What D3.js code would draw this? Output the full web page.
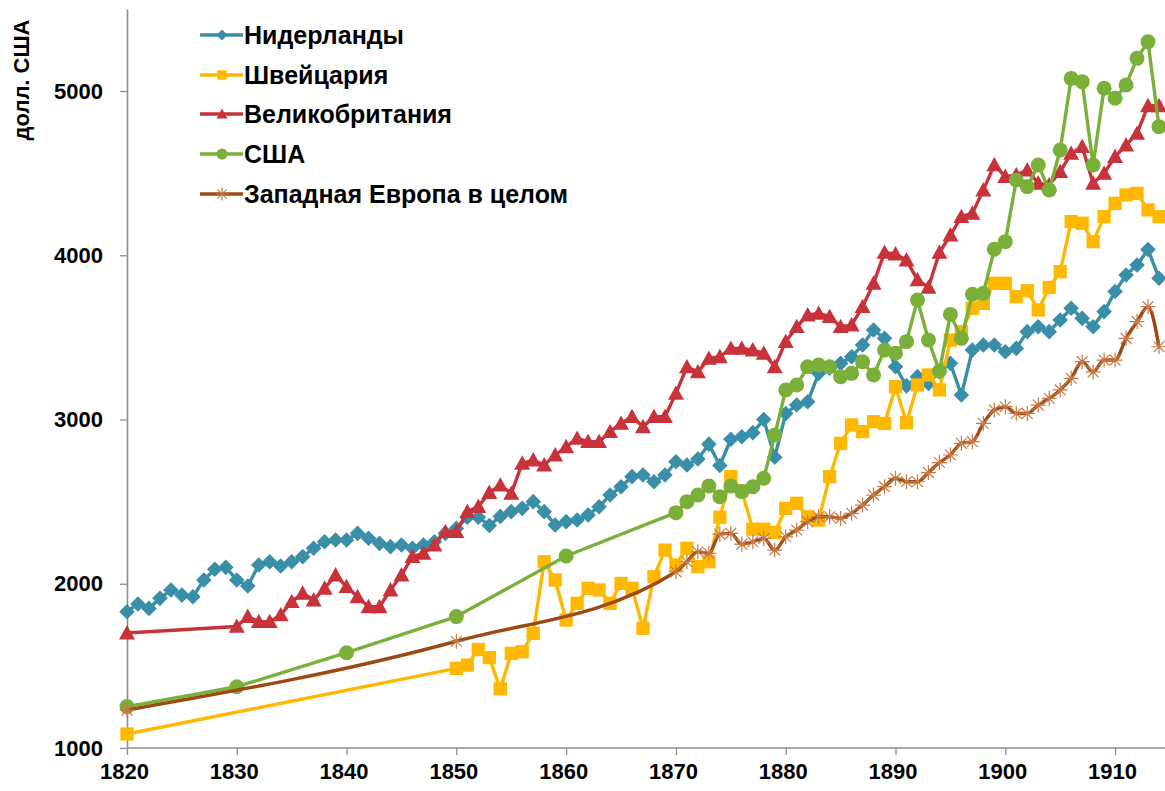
<!DOCTYPE html>
<html>
<head>
<meta charset="utf-8">
<script src="https://cdn.jsdelivr.net/npm/d3@7"></script>
<style>
  html, body { margin: 0; padding: 0; background: #fff; }
  svg { display: block; }
  text { font-family: "Liberation Sans", Arial, sans-serif; font-weight: bold; fill: #000; }
</style>
</head>
<body>
<svg id="chart" width="1165" height="791"></svg>
<script>
// ---------- DATA ----------
const seriesNames = ["Нидерланды", "Швейцария", "Великобритания", "США", "Западная Европа в целом"];
const yAxisTitle = "долл. США";
const xTickValues = [1820, 1830, 1840, 1850, 1860, 1870, 1880, 1890, 1900, 1910];
const yTickValues = [1000, 2000, 3000, 4000, 5000];

const nlYears = d3.range(1820, 1915);
const nlValues = [1830,1877,1850,1911,1962,1931,1921,2023,2088,2100,
  2023,1986,2114,2134,2108,2134,2165,2216,2256,2266,
  2266,2307,2277,2246,2226,2236,2216,2236,2256,2307,
  2337,2405,2405,2355,2410,2439,2459,2500,2439,2358,
  2378,2388,2419,2469,2540,2591,2652,2662,2621,2662,
  2743,2723,2760,2850,2720,2880,2895,2920,3000,2770,
  3037,3088,3108,3281,3312,3342,3382,3454,3545,3494,
  3321,3205,3261,3220,3290,3342,3149,3423,3454,3454,
  3413,3433,3535,3565,3535,3606,3677,3616,3565,3657,
  3779,3880,3941,4035,3860];

const chYears = [1820].concat(d3.range(1850, 1915));
const chValues = [1085,
  1485,1505,1600,1550,1360,1576,1586,1698,2134,2023,
  1779,1881,1972,1962,1881,2002,1972,1729,2043,2205,
  2114,2216,2104,2134,2405,2652,2566,2332,2332,2312,
  2459,2490,2408,2388,2652,2855,2967,2926,2987,2976,
  3200,2980,3210,3271,3180,3484,3535,3677,3707,3829,
  3829,3748,3784,3667,3804,3900,4205,4195,4083,4235,
  4316,4367,4377,4276,4235];

const ukYears = [1820].concat(d3.range(1830, 1915));
const ukValues = [1700,
  1740,1800,1769,1769,1810,1891,1942,1901,1972,2053,
  1982,1921,1860,1860,1962,2053,2165,2185,2236,2317,
  2317,2439,2470,2555,2600,2550,2733,2753,2723,2784,
  2834,2885,2865,2865,2926,2976,3017,2956,3017,3017,
  3159,3320,3290,3372,3382,3433,3433,3423,3403,3321,
  3474,3565,3636,3646,3626,3565,3575,3687,3829,4017,
  4007,3971,3850,3805,4017,4123,4235,4255,4397,4550,
  4479,4489,4519,4438,4428,4509,4620,4661,4438,4499,
  4601,4671,4742,4910,4910];

const usYears = [1820, 1830, 1840, 1850, 1860].concat(d3.range(1870, 1915));
const usValues = [1252, 1373, 1580, 1800, 2169,
  2433,2500,2540,2595,2530,2595,2561,2591,2642,2905,
  3180,3210,3321,3332,3321,3261,3281,3352,3271,3423,
  3403,3474,3728,3484,3295,3640,3494,3763,3768,4037,
  4083,4458,4418,4550,4397,4641,5077,5057,4550,5017,
  4956,5037,5199,5300,4783];

const weYears = [1820, 1850].concat(d3.range(1870, 1915));
const weValues = [1231, 1650,
  2073,2134,2195,2185,2302,2307,2241,2256,2276,2205,
  2286,2327,2378,2408,2408,2398,2429,2479,2540,2591,
  2642,2621,2621,2677,2738,2784,2855,2865,2976,3058,
  3078,3037,3037,3088,3129,3180,3251,3352,3290,3362,
  3362,3494,3596,3687,3443];

// ---------- STYLE ----------
const colors = ["#3A8FA8", "#FFB800", "#C8323A", "#7AAF3A", "#9B4A14"];
const markerTypes = ["diamond", "square", "triangle", "circle", "star"];

const series = [
  {years: nlYears, values: nlValues},
  {years: chYears, values: chValues},
  {years: ukYears, values: ukValues},
  {years: usYears, values: usValues},
  {years: weYears, values: weValues}
].map((s, i) => ({
  name: seriesNames[i], color: colors[i], marker: markerTypes[i],
  points: s.years.map((y, j) => ({year: y, value: s.values[j]}))
}));

const svg = d3.select("#chart");
const x = d3.scaleLinear().domain([1820, 1914]).range([127, 1159]);
const y = d3.scaleLinear().domain([1000, 5500]).range([748, 8.9]);

// axes
const axisColor = "#8E8E8E";
const gx = svg.append("g").attr("transform", "translate(0,748)")
  .call(d3.axisBottom(x).tickValues(xTickValues).tickFormat(d3.format("d")).tickSize(7).tickSizeOuter(0).tickPadding(8));
gx.select(".domain").remove();
gx.append("line").attr("x1", 127).attr("x2", 1165).attr("y1", 0).attr("y2", 0)
  .attr("stroke", axisColor).attr("stroke-width", 1.6);
gx.selectAll(".tick line").attr("stroke", axisColor).attr("stroke-width", 1.3);
gx.selectAll(".tick text").attr("font-size", 22).attr("dy", "0.72em").attr("dx", -3)
  .style("font-family", "'Liberation Sans', Arial, sans-serif").style("font-weight", "bold").attr("fill", "#000");

const gy = svg.append("g").attr("transform", "translate(127,0)")
  .call(d3.axisLeft(y).tickValues(yTickValues).tickFormat(d3.format("d")).tickSize(7).tickSizeOuter(0).tickPadding(17));
gy.select(".domain").attr("stroke", axisColor).attr("stroke-width", 1.6);
gy.selectAll(".tick line").attr("stroke", axisColor).attr("stroke-width", 1.3);
gy.selectAll(".tick text").attr("font-size", 22)
  .style("font-family", "'Liberation Sans', Arial, sans-serif").style("font-weight", "bold").attr("fill", "#000");

svg.append("text").attr("transform", "translate(29,80) rotate(-90)")
  .attr("text-anchor", "middle").attr("font-size", 22).text(yAxisTitle);

// markers
function drawMarker(g, type, color, size) {
  const s = size;
  if (type === "diamond") {
    g.append("path").attr("d", `M0,${-s}L${s},0L0,${s}L${-s},0Z`).attr("fill", color);
  } else if (type === "square") {
    g.append("rect").attr("x", -s * 0.85).attr("y", -s * 0.85).attr("width", s * 1.7).attr("height", s * 1.7).attr("fill", color);
  } else if (type === "triangle") {
    g.append("path").attr("d", `M0,${-s}L${s},${s * 0.8}L${-s},${s * 0.8}Z`).attr("fill", color);
  } else if (type === "circle") {
    g.append("circle").attr("r", s).attr("fill", color);
  } else if (type === "star") {
    const c = "#C77A45";
    const d = s * 0.72;
    g.append("path").attr("d", `M0,${-s}L0,${s}M${-d},${-d}L${d},${d}M${-d},${d}L${d},${-d}M${-s},0L${s},0`)
      .attr("stroke", c).attr("stroke-width", 1.2).attr("fill", "none");
  }
}

const markerSize = {diamond: 7.8, square: 7.8, triangle: 8, circle: 7.5, star: 7.5};

series.forEach((s, i) => {
  const g = svg.append("g");
  const line = d3.line().x(d => x(d.year)).y(d => y(d.value))
    .curve(s.marker === "star" ? d3.curveMonotoneX : d3.curveLinear);
  g.append("path").datum(s.points).attr("d", line)
    .attr("fill", "none").attr("stroke", s.color).attr("stroke-width", 3.4)
    .attr("stroke-linejoin", "round");
  g.selectAll("g.m").data(s.points).enter().append("g").attr("class", "m")
    .attr("transform", d => `translate(${x(d.year)},${y(d.value)})`)
    .each(function () { drawMarker(d3.select(this), s.marker, s.color, markerSize[s.marker]); });
});

// legend
const legendY = [35, 75, 114, 154, 194];
series.forEach((s, i) => {
  const g = svg.append("g").attr("transform", `translate(0,${legendY[i]})`);
  g.append("line").attr("x1", 200).attr("x2", 243).attr("y1", 0).attr("y2", 0)
    .attr("stroke", s.color).attr("stroke-width", 3.4);
  const m = g.append("g").attr("transform", "translate(222,0)");
  drawMarker(m, s.marker, s.color, s.marker === "star" ? 6.5 : 5.5);
  g.append("text").attr("x", 244).attr("y", 0).attr("dy", "0.36em")
    .attr("font-size", 25).text(s.name);
});
</script>
</body>
</html>
